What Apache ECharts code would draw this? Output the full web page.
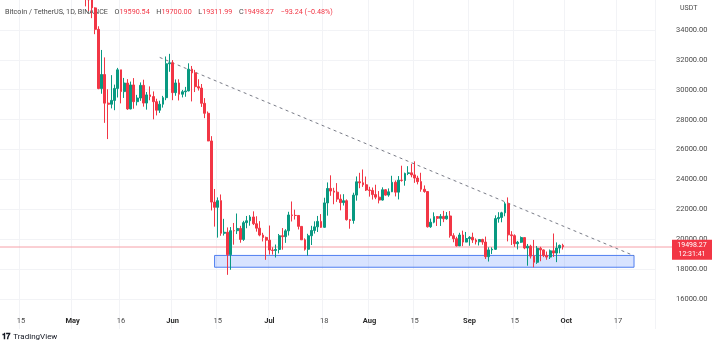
<!DOCTYPE html>
<html><head><meta charset="utf-8">
<script src="https://cdn.jsdelivr.net/npm/echarts@6/dist/echarts.min.js"></script>
<style>html,body{margin:0;padding:0;background:#fff}#c{width:718px;height:342px}</style>
</head><body><div id="c"></div><script>
// ---- data (daily BTC/USDT) ----
const firstCandle = '2022-05-05';
const open = [39695.74,36552.97,36013.77,35472.40,34038.39,30074.23,31017.11,29103.94,29029.74,29287.05,30086.74,31328.89,29874.01,30444.93,28715.33,30319.22,29201.01,29445.07,30293.93,29109.14,29654.58,29542.14,29201.35,28629.81,29031.33,29468.10,31734.23,
31801.05,29805.84,30452.63,29700.21,29864.03,29919.20,31373.10,31125.32,30204.77,30109.93,29091.87,28424.71,26574.53,22485.27,22136.42,22583.72,20400.60,20468.81,18970.79,20574.00,20573.90,20723.51,19988.00,21110.12,21237.68,21491.18,21038.08,20742.57,20281.28,20123.00,
19942.21,19279.80,19252.82,19315.83,20236.71,20175.84,20564.51,21624.99,21594.75,21592.15,20861.11,19963.61,19331.28,20234.87,20588.84,20830.04,21195.60,20799.58,22432.58,23398.48,23223.30,23152.19,22684.83,22451.08,22577.13,21310.90,21254.67,22954.31,23845.25,23777.28,23644.64,
23296.36,23266.90,22985.93,22816.91,22622.41,23313.56,22954.31,23174.39,23810.98,23151.32,23954.05,23933.09,24401.70,24443.06,24305.25,24093.04,23856.15,23342.66,23191.45,20834.39,21140.07,21516.70,21400.75,21529.11,21368.05,21559.04,20239.14,20037.60,19555.61,20283.97,19812.62,
20048.44,20132.64,19950.98,19832.45,19988.44,19812.63,18837.67,19288.57,19328.75,21376.23,21460.45,21769.26,22371.48,20295.11,20241.05,19704.06,19801.80,20113.63,19417.45,19537.02,18874.31,18461.36,19401.62,19288.30,18921.99,18809.13,19226.68,19078.10,19412.82,19590.54];
const high = [39845.51,36675.63,36146.30,35514.22,34243.15,32658.99,32162.59,30032.44,30976.00,30343.27,31460.00,31328.90,30788.37,30709.99,30545.18,30777.33,29656.18,30487.99,30670.51,29845.86,30223.74,29886.64,29397.66,29266.00,29587.78,32222.00,32399.00,
31982.97,30689.00,30699.00,29988.88,30189.00,31765.64,31589.60,31327.22,30700.00,30382.80,29440.41,28544.96,26895.84,23362.88,22800.00,22995.73,21365.43,20792.06,20815.95,21090.00,21723.00,20900.00,21233.00,21558.41,21614.50,21868.00,21539.39,21212.10,20432.31,20179.08,
20918.35,19467.39,19647.63,20354.01,20750.00,20675.22,21838.10,22527.37,21980.00,21607.65,20868.48,20059.42,20366.61,20900.00,21200.00,21561.00,21684.54,22777.63,23800.00,24276.74,23442.77,23756.49,23000.77,23014.64,22666.00,21347.82,23112.63,24199.72,24442.66,24668.00,24194.82,
23509.68,23459.89,23647.68,23223.32,23472.86,23354.36,23402.00,24245.00,23933.25,24226.00,24918.54,24456.50,24888.00,25047.56,25211.32,24247.49,24446.71,23600.00,23208.67,21382.85,21800.00,21548.71,21684.87,21900.00,21819.88,21886.77,20402.93,20171.18,20433.62,20576.25,20490.00,
20208.37,20441.26,20055.93,20000.00,20031.24,20179.08,19464.06,19458.25,21600.00,21810.80,21838.00,22488.00,22799.00,20541.48,20330.24,19890.00,20189.00,20113.63,19686.20,19634.62,19956.00,19550.17,19500.00,19316.14,19180.21,19315.20,20385.86,19790.00,19645.52,19700.00];
const low = [35571.90,35258.00,34785.00,33713.95,30033.33,29730.40,27785.00,26700.00,28751.00,28630.00,29480.00,29087.04,29450.38,28654.47,28691.38,28730.00,28947.28,29255.11,28866.35,28669.00,29294.21,28019.56,28282.90,28450.00,28804.54,29299.62,31200.01,
29301.00,29594.55,29282.71,29485.00,29531.42,29890.23,29218.96,29843.88,29944.10,28850.00,28099.99,26560.00,21925.77,20846.00,20111.62,20232.00,20246.66,17622.00,17960.41,19637.03,20348.40,19770.51,19890.07,20736.72,20906.62,20950.00,20510.00,20202.01,19854.92,18626.00,
18975.00,18977.01,18781.00,19055.31,19304.40,19761.25,20251.68,21189.26,21322.12,20655.00,19950.00,19240.00,18910.94,19616.07,20382.29,20484.44,20755.24,20762.45,21579.54,22906.19,22341.46,22500.00,21934.57,22257.15,21250.00,20706.50,21042.53,22582.13,23414.03,23502.25,23227.31,
22850.00,22654.37,22681.22,22400.00,22586.95,22909.52,22844.62,23154.25,22865.00,22664.69,23852.13,23583.00,24291.22,24144.00,23773.22,23671.22,23180.40,23111.04,20783.57,20761.90,21069.11,20890.18,20890.14,21145.00,21310.15,20107.90,19800.00,19520.00,19550.79,19540.00,19797.94,
19565.66,19755.29,19652.72,19583.10,19633.83,18681.48,18510.77,19012.00,19291.75,21111.13,21136.57,21538.51,19860.00,19617.62,19497.00,19320.01,19748.08,19335.62,18232.56,18711.87,18125.98,18356.39,18531.42,18805.34,18629.20,18680.72,18816.32,18471.28,19060.00,19311.99];
const close = [36552.97,36013.77,35472.39,34038.40,30076.31,31017.10,29103.94,29029.75,29287.05,30086.74,31328.89,29874.01,30444.93,28715.32,30319.23,29201.01,29445.06,30293.94,29109.15,29654.58,29542.15,29201.35,28629.80,29031.33,29468.10,31734.22,31801.04,
29805.83,30452.62,29700.21,29864.04,29919.21,31373.10,31125.33,30204.77,30109.93,29091.88,28424.70,26574.53,22487.41,22136.41,22583.72,20401.31,20468.81,18970.79,20574.00,20573.89,20723.52,19987.99,21110.13,21237.69,21491.19,21038.07,20742.56,20281.29,20123.01,19942.21,
19279.80,19252.81,19315.83,20236.71,20175.83,20564.51,21624.98,21594.75,21591.83,20862.47,19963.61,19328.75,20234.87,20588.84,20830.04,21195.60,20798.16,22432.58,23396.62,23223.30,23152.19,22684.83,22451.07,22579.68,21310.90,21254.67,22952.45,23842.93,23773.75,23643.51,23293.32,
23268.01,22987.79,22818.37,22622.98,23312.42,22954.21,23174.39,23810.00,23149.95,23954.05,23934.39,24403.68,24441.38,24305.24,24094.82,23854.74,23342.66,23191.20,20834.39,21140.07,21515.61,21399.83,21529.12,21368.08,21559.04,20241.05,20037.60,19555.61,20285.73,19811.66,20050.02,
20131.46,19951.86,19831.90,19986.60,19812.63,18837.68,19290.32,19329.83,21381.15,21460.44,21769.26,22370.45,20296.71,20241.05,19701.88,19803.30,20113.62,19416.18,19537.02,18875.00,18461.36,19401.63,19289.91,18920.50,18807.38,19227.82,19079.13,19412.82,19591.51,19498.27];

const axisStart = '2022-04-09', axisEnd = '2022-10-28';
const tickDates = ['2022-04-15','2022-05-01','2022-05-16','2022-06-01','2022-06-15','2022-07-01','2022-07-18','2022-08-01','2022-08-15','2022-09-01','2022-09-15','2022-10-01','2022-10-17'];
const tickText  = ['15','May','16','Jun','15','Jul','18','Aug','15','Sep','15','Oct','17'];
const monthTicks = ['May','Jun','Jul','Aug','Sep','Oct'];
const lastPrice = 19498.27;
const countdown = '12:31:41';
const trendStart = ['2022-05-28', 32160];
const trendEnd   = ['2022-10-22', 18900];
const zoneStart = ['2022-06-14', 18920];
const zoneEnd   = ['2022-10-22', 18130];

// ---- build ----
function iso(d){ return d.toISOString().slice(0,10); }
function dayList(a,b){ const out=[]; let d=new Date(a+'T00:00:00Z'); const e=new Date(b+'T00:00:00Z'); while(d<=e){ out.push(iso(d)); d=new Date(d.getTime()+86400000);} return out; }
const categories = dayList(axisStart, axisEnd);
const candleDates = categories.slice(categories.indexOf(firstCandle), categories.indexOf(firstCandle)+open.length);
const candles = candleDates.map((d,i)=>[d, open[i], close[i], low[i], high[i]]);
const tickMap = {}; tickDates.forEach((d,i)=>tickMap[d]=tickText[i]);

const chart = echarts.init(document.getElementById('c'), null, {renderer:'canvas'});
const font = 'Roboto, "Noto Sans", sans-serif';
const option = {
  animation:false,
  backgroundColor:'#ffffff',
  grid:{left:0, right:63, top:-6.5, bottom:13},
  xAxis:{
    type:'category', data:categories, boundaryGap:true, offset:-17,
    axisLine:{show:false}, axisTick:{show:false},
    axisLabel:{
      interval:(i,v)=>tickMap[v]!==undefined, margin:5, fontSize:7.5, fontFamily:font, color:'#4a4a4a',
      formatter:(v)=>{ const t=tickMap[v]; return monthTicks.includes(t)? '{b|'+t+'}' : t; },
      rich:{b:{fontWeight:'bold', fontSize:7.5, fontFamily:font, color:'#2a2a2a'}}
    },
    splitLine:{show:true, interval:(i,v)=>tickMap[v]!==undefined, lineStyle:{color:'#f2f3f6', width:1}}
  },
  yAxis:{
    type:'value', position:'right', min:14000, max:36000, interval:2000, scale:true,
    axisLine:{show:false}, axisTick:{show:false},
    axisLabel:{showMinLabel:false, showMaxLabel:false, margin:21, fontSize:7.5, fontFamily:font, color:'#4a4a4a', align:'left',
      formatter:(v)=>v.toFixed(2)},
    splitLine:{show:true, showMinLine:false, showMaxLine:false, lineStyle:{color:'#f2f3f6', width:1}}
  },
  series:[{
    type:'candlestick', data:candles, encode:{x:0, y:[1,2,3,4]}, barWidth:'72%', z:5,
    itemStyle:{color:'#089981', color0:'#f23645', borderColor:'#089981', borderColor0:'#f23645', borderWidth:1},
    markArea:{silent:true, itemStyle:{color:'rgba(41,98,255,0.18)', borderColor:'#4f7ff0', borderWidth:1, opacity:1},
      data:[[{coord:zoneStart},{coord:zoneEnd}]]},
    markLine:{silent:true, symbol:['none','none'], label:{show:false}, animation:false,
      lineStyle:{color:'#787b86', width:1, type:[3,3.5]},
      data:[[{coord:trendStart},{coord:trendEnd}]]}
  }]
};
chart.setOption(option);
const py = chart.convertToPixel({yAxisIndex:0}, lastPrice);
chart.setOption({graphic:[
  {type:'text', left:5, top:6, z:1, style:{text:'{g|Bitcoin / TetherUS, 1D, BINANCE}  {g|O}{r|19590.54}  {g|H}{r|19700.00}  {g|L}{r|19311.99}  {g|C}{r|19498.27}  {r|−93.24 (−0.48%)}',
    rich:{g:{fill:'#4a4a4a', fontSize:7.2, fontFamily:font}, r:{fill:'#f23645', fontSize:7.2, fontFamily:font}}}},
  {type:'text', left:680, top:5, style:{text:'USDT', fill:'#4a4a4a', fontSize:7, fontFamily:font}},
  {type:'line', z:3, shape:{x1:0, y1:Math.round(py), x2:672, y2:Math.round(py)}, style:{stroke:'#f6a0a8', lineWidth:1}},
  {type:'rect', shape:{x:672, y:py-7, width:40, height:20}, style:{fill:'#f23645'}, z:10},
  {type:'text', x:692, y:py-2, z:11, style:{text:'19498.27', fill:'#fff', fontSize:7, fontFamily:font, align:'center', verticalAlign:'middle'}},
  {type:'text', x:692, y:py+7, z:11, style:{text:countdown, fill:'#fff', fontSize:7, fontFamily:font, align:'center', verticalAlign:'middle'}},
  {type:'text', left:2, top:331, style:{text:'{l|𝟏𝟕} {t|TradingView}', rich:{l:{fill:'#131722', fontSize:8, fontWeight:'bold', fontFamily:font}, t:{fill:'#131722', fontSize:8, fontFamily:font}}}},
]});
</script></body></html>
